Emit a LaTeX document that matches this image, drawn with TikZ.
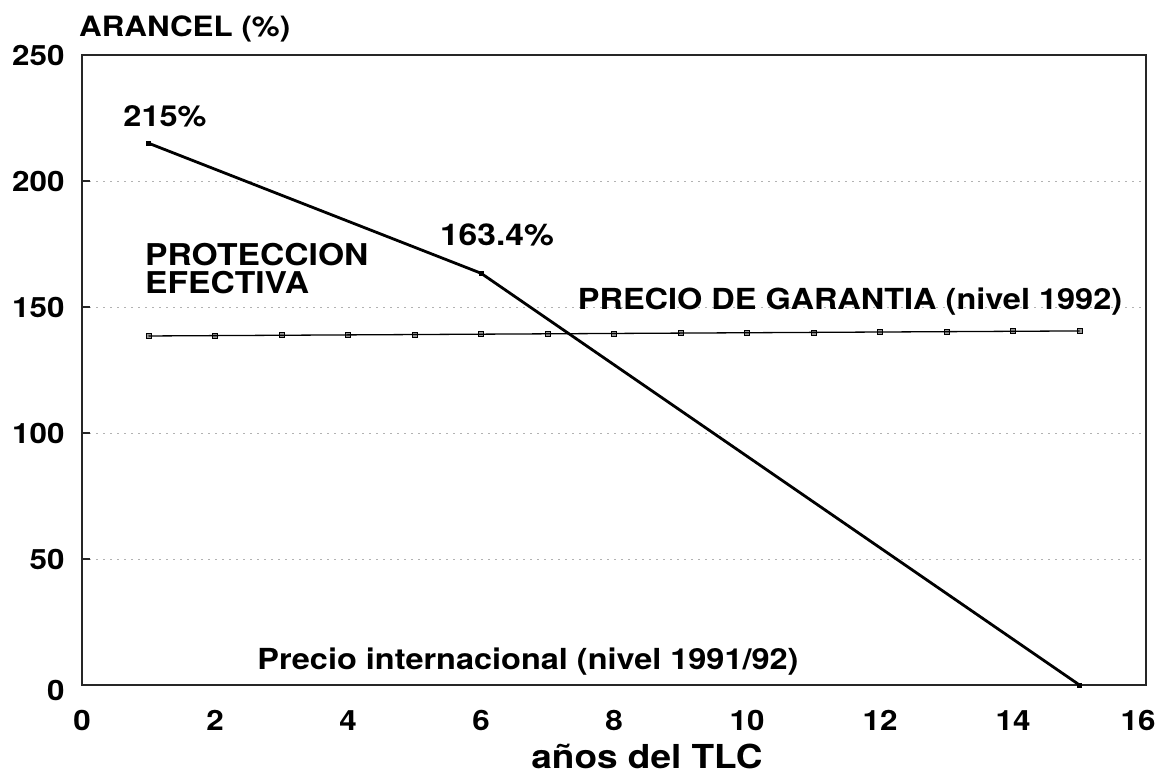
\documentclass[tikz,border=0pt]{standalone}
\usepackage{fontspec}
\setmainfont[FakeStretch=1.12]{TeX Gyre Heros}
\begin{document}
\begin{tikzpicture}[x=1pt,y=1pt,
  txt/.style={font=\bfseries\fontsize{#1}{#1}\selectfont, inner sep=0pt},
  ytick/.style={txt=28, anchor=east},
  xtick/.style={txt=28},
  frame/.style={line width=1.3pt, black!85},
  gridl/.style={line width=0.8pt, gray!60, dash pattern=on 2pt off 5pt},
  tickm/.style={line width=1.3pt, black!85},
  eff/.style={line width=2.8pt, black},
  gar/.style={line width=1.3pt, black},
  sq/.style={draw=black, fill=black!40, line width=0.7pt, minimum size=5pt, inner sep=0pt, rectangle},
  dot/.style={fill=black, minimum size=5pt, inner sep=0pt, rectangle}]
\useasboundingbox (0,0) rectangle (1164,777);
\begin{scope}[shift={(82,92)}, x=66.5pt, y=2.52pt]
  % grid
  \foreach \v in {50,100,150,200}{
    \draw[gridl] (0,\v) -- (16,\v);
    \draw[tickm] (0,\v) -- (0.12,\v);
  }
  % frame
  \draw[frame] (0,0) rectangle (16,250);
  % y tick labels
  \foreach \v in {50,100,150,200,250}
    \node[ytick] (y\v) at (-0.26,\v) {\v};
  \node[ytick] (y0) at (-0.26,-2) {0};
  % x tick labels
  \foreach \v in {0,2,4,6,8,10,12,14}
    \node[xtick] (x\v) at (\v,-14) {\v};
  \node[xtick] (x16) at (15.88,-14) {16};
  % guarantee price line
  \foreach \i in {1,...,15}
    \node[sq] (g\i) at (\i,{138.5+(\i-1)*2/14}) {};
  \draw[gar] (g1.center) -- (g15.center);
  % effective protection
  \node[dot] (p1) at (1,215) {};
  \node[dot] (p6) at (6,163.4) {};
  \node[dot] (p15) at (15,0) {};
  \draw[eff, line join=round] (p1.center) -- (p6.center) -- (p15.center);
\end{scope}
% labels (pixel coords, y flipped)
\node[txt=28, anchor=west] (arancel) at (79,{777-29}) {ARANCEL (\%)};
\node[txt=29] (l215) at (165,{777-116}) {215\%};
\node[txt=30] (l163) at (497,{777-235}) {163.4\%};
\node[txt=30, anchor=base west] (prot1) at (145,{777-266}) {PROTECCION};
\node[txt=30, anchor=base west] (prot2) at (145,{777-294}) {EFECTIVA};
\node[txt=29] (garantia) at (850,{777-302}) {PRECIO DE GARANTIA (nivel 1992)};
\node[txt=29] (intl) at (528,{777-662}) {Precio internacional (nivel 1991/92)};
\node[txt=33] (xlabel) at (647,{777-756}) {años del TLC};
\end{tikzpicture}
\end{document}
